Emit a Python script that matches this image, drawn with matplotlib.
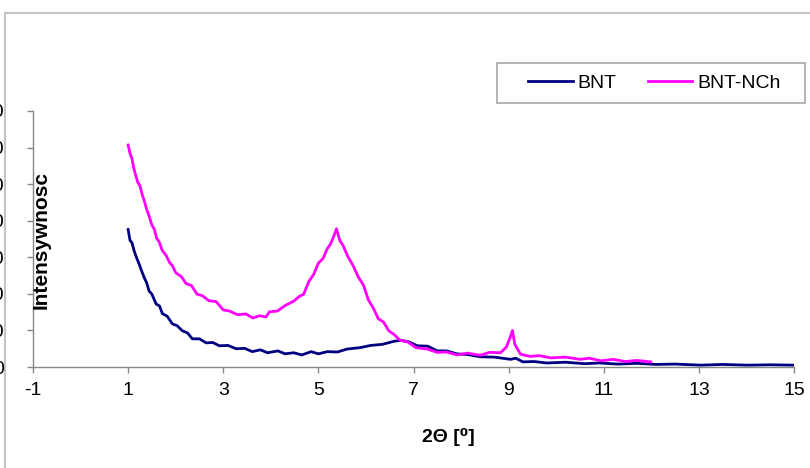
import matplotlib
matplotlib.use("Agg")
import matplotlib.pyplot as plt
from matplotlib.patches import Rectangle

plt.rcParams['font.family'] = ['Liberation Sans', 'DejaVu Sans']
plt.rcParams['axes.unicode_minus'] = False

# BNT-NCh (magenta)
x_nch = [1.00, 1.04, 1.08, 1.12, 1.16, 1.20, 1.25, 1.29, 1.34, 1.39, 1.44, 1.50, 1.55, 1.60,
         1.65, 1.72, 1.80, 1.87, 1.93, 2.00, 2.12, 2.22, 2.33, 2.45, 2.56, 2.70, 2.85, 3.00,
         3.13, 3.30, 3.48, 3.62, 3.76, 3.90, 3.97, 4.14, 4.30, 4.48, 4.60, 4.69, 4.80, 4.90,
         5.00, 5.10, 5.18, 5.25, 5.32, 5.38, 5.45, 5.52, 5.62, 5.73, 5.84, 5.95, 6.05, 6.16,
         6.26, 6.37, 6.48, 6.58, 6.72, 6.87, 7.05, 7.29, 7.50, 7.70, 7.91, 8.14, 8.40, 8.60,
         8.83, 8.95, 9.03, 9.08, 9.13, 9.25, 9.45, 9.65, 9.88, 10.2, 10.5, 10.7, 10.94, 11.2,
         11.45, 11.7, 11.99]
y_nch = [607, 584, 570, 543, 524, 506, 495, 474, 454, 431, 413, 388, 377, 352,
         343, 318, 305, 286, 277, 258, 247, 228, 223, 199, 195, 181, 179, 156,
         153, 143, 145, 134, 140, 137, 151, 153, 168, 180, 193, 199, 234, 253,
         284, 297, 322, 335, 356, 378, 346, 332, 302, 277, 246, 223, 184, 160,
         132, 123, 99, 90, 73, 69, 53, 49, 40, 41, 33, 38, 32, 40,
         39, 54, 80, 100, 62, 35, 29, 31, 25, 27, 21, 24, 17, 21,
         15, 18, 14]

# BNT (navy)
x_bnt = [1.00, 1.04, 1.08, 1.13, 1.18, 1.23, 1.28, 1.34, 1.39, 1.44, 1.50, 1.59, 1.66, 1.72,
         1.82, 1.93, 2.03, 2.14, 2.25, 2.35, 2.50, 2.64, 2.78, 2.92, 3.10, 3.27, 3.45, 3.61,
         3.78, 3.93, 4.15, 4.30, 4.48, 4.65, 4.85, 5.00, 5.19, 5.40, 5.60, 5.88, 6.10, 6.35,
         6.58, 6.73, 6.90, 7.08, 7.30, 7.50, 7.70, 7.91, 8.14, 8.40, 8.70, 9.04, 9.15, 9.30,
         9.53, 9.80, 10.2, 10.6, 10.9, 11.3, 11.7, 12.1, 12.5, 13.04, 13.5, 14.0, 14.5, 15.0]
y_bnt = [376, 346, 340, 316, 298, 282, 264, 244, 230, 208, 199, 172, 167, 146,
         139, 118, 113, 99, 93, 77, 77, 66, 67, 58, 59, 50, 51, 42,
         47, 39, 44, 36, 39, 33, 42, 36, 42, 41, 49, 53, 59, 62,
         70, 73, 69, 58, 57, 44, 44, 36, 34, 28, 27, 21, 24, 14,
         15, 11, 13, 9, 11, 8, 10, 7, 8, 5, 7, 5, 6, 5]

x_ticks = [-1, 1, 3, 5, 7, 9, 11, 13, 15]
y_ticks = [0, 100, 200, 300, 400, 500, 600, 700]

W, H = 810, 468
fig = plt.figure(figsize=(8.1, 4.68), dpi=100)

# outer chart frame (only top and left edges are inside the picture)
fig.add_artist(Rectangle((5 / W, -0.1), 1.2, 1 - 13 / H + 0.1, transform=fig.transFigure,
                         fill=False, edgecolor='#c4c4c4', lw=1.5, zorder=0))

ax = fig.add_axes([33 / W, 101 / H, 761 / W, 256 / H])
ax.patch.set_alpha(0)

l1, = ax.plot(x_bnt, y_bnt, color='#000080', lw=2.0, label='BNT')
l2, = ax.plot(x_nch, y_nch, color='#FF00FF', lw=2.0, label='BNT-NCh')

ax.set_xlim(-1, 15)
ax.set_ylim(0, 700)
ax.set_xticks(x_ticks)
ax.set_yticks(y_ticks)
ax.set_yticklabels([str(v) for v in y_ticks])

for s in ['top', 'right']:
    ax.spines[s].set_visible(False)
for s in ['left', 'bottom']:
    ax.spines[s].set_color('#888888')
    ax.spines[s].set_linewidth(1)

ax.tick_params(axis='both', direction='out', length=4, width=1, color='#888888',
               labelsize=14)
ax.tick_params(axis='x', pad=7)
ax.tick_params(axis='y', pad=17)

fig.text(448 / W, 1 - 437 / H, '2\u0398 [\u2070]', ha='center', va='center',
         fontsize=14, fontweight='bold')
fig.text(41 / W, 1 - 240 / H, 'Intensywnosc', rotation=90, ha='center', va='center',
         fontsize=15, fontweight='bold')

# legend box
fig.add_artist(Rectangle((497 / W, 1 - 103 / H), 308 / W, 40 / H, transform=fig.transFigure,
                         facecolor='white', edgecolor='#a8a8a8', lw=1.2, zorder=3))
fig.legend([l1, l2], ['BNT', 'BNT-NCh'], loc='center left',
           bbox_to_anchor=(528 / W, 1 - 83 / H), ncol=2, frameon=False, fontsize=14,
           handlelength=2.3, handletextpad=0.25, columnspacing=1.6,
           borderpad=0, borderaxespad=0)

fig.savefig('out.png', dpi=100)
